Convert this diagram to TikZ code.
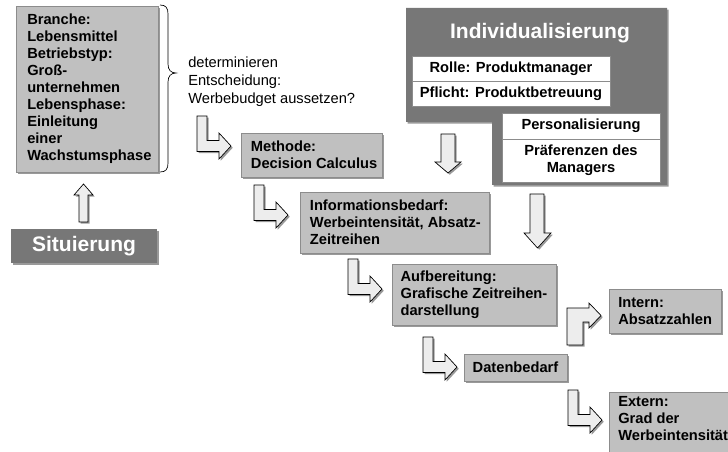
\documentclass[tikz,border=0pt]{standalone}
\usepackage{fontspec}
\setmainfont{Liberation Sans}
\usetikzlibrary{shadows}
\definecolor{boxgray}{HTML}{C0C0C0}
\definecolor{boxedge}{HTML}{8C8C8C}
\definecolor{darkgray}{HTML}{777777}
\definecolor{arrowfill}{HTML}{EDEDED}
\tikzset{
  myshadow/.style={drop shadow={shadow xshift=1.3pt,shadow yshift=-1.3pt,opacity=0.4,fill=black}},
  gbox/.style={draw=boxedge, line width=0.5pt, fill=boxgray, inner sep=0pt, myshadow,
    font=\bfseries\fontsize{11}{12.75}\selectfont},
  gtext/.style={anchor=west, inner sep=0pt, align=left, font=\bfseries\fontsize{11}{12.75}\selectfont},
  dbox/.style={fill=darkgray, inner sep=0pt, text=white, myshadow,
    font=\bfseries\fontsize{15.75}{18}\selectfont},
  wbox/.style={draw=boxedge, line width=0.4pt, fill=white, inner sep=0pt, align=center,
    font=\bfseries\fontsize{11}{12.75}\selectfont},
  blockarrow/.style={draw=black, line width=0.5pt, fill=arrowfill, line join=miter, myshadow},
  larrow/.pic={\draw[blockarrow] (0,0) -- (10,0) -- (10,24.5) -- (22,24.5) -- (22,17) -- (34,30)
      -- (22,43) -- (22,35.5) -- (0,35.5) -- cycle;}
}
\begin{document}
\begin{tikzpicture}[x=0.75pt,y=-0.75pt]
\useasboundingbox (0,0) rectangle (728,452);
\clip (0,0) rectangle (728,452);

% Individualisierung group
\path[fill=darkgray, myshadow] (406,8) -- (667,8) -- (667,185) -- (492,185) -- (492,122) -- (406,122) -- cycle;
\node[text=white, inner sep=0pt, font=\bfseries\fontsize{15.75}{18}\selectfont] (indiv) at (540,33) {Individualisierung};
\node[wbox, minimum width=148.5pt, minimum height=18.75pt] (rolle) at (511,68.5) {Rolle: Produktmanager};
\node[wbox, minimum width=148.5pt, minimum height=18.75pt] (pflicht) at (511,93.5) {Pflicht: Produktbetreuung};
\node[wbox, minimum width=118.5pt, minimum height=19.5pt] (pers) at (581,126) {Personalisierung};
\node[wbox, minimum width=118.5pt, minimum height=32.25pt] (praef) at (581,160.5) {Präferenzen des\\Managers};

% left side
\node[gbox, minimum width=106.5pt, minimum height=124.5pt] (branche) at (87,89) {};
\node[gtext] (branchetext) at ([xshift=8.5pt]branche.west)
  {Branche:\\Lebensmittel\\Betriebstyp:\\Groß-\\unternehmen\\Lebensphase:\\Einleitung\\einer\\Wachstumsphase};
\draw[line width=0.5pt] (160,5) .. controls (166,5) and (168,8) .. (168,14) -- (168,64)
  .. controls (168,70) and (171,73) .. (176,73) .. controls (171,73) and (168,76) .. (168,82)
  -- (168,163) .. controls (168,169) and (166,172) .. (160,172);
\node[anchor=north west, align=left, inner sep=0pt, font=\fontsize{11}{13.5}\selectfont] (det) at (188,57)
  {determinieren\\Entscheidung:\\Werbebudget aussetzen?};
\node[dbox, minimum width=109.5pt, minimum height=25.5pt] (sit) at (84,246) {Situierung};
\draw[blockarrow] (79,222) -- (88,222) -- (88,195) -- (93,195) -- (83.5,184) -- (74,195) -- (79,195) -- cycle;

% chain
\node[gbox, minimum width=105.75pt, minimum height=33pt] (meth) at (311.5,155) {};
\node[gtext] (methtext) at ([xshift=7.5pt]meth.west) {Methode:\\Decision Calculus};
\node[gbox, minimum width=141.75pt, minimum height=45.75pt] (info) at (394.5,222.5) {};
\node[gtext] (infotext) at ([xshift=7.5pt]info.west) {Informationsbedarf:\\Werbeintensität, Absatz-\\Zeitreihen};
\node[gbox, minimum width=123pt, minimum height=45.75pt] (aufb) at (474,294.5) {};
\node[gtext] (aufbtext) at ([xshift=6.5pt]aufb.west) {Aufbereitung:\\Grafische Zeitreihen-\\darstellung};
\node[gbox, minimum width=77.25pt, minimum height=20.25pt] (daten) at (515.5,367.5) {Datenbedarf};
\node[gbox, minimum width=84pt, minimum height=33pt] (intern) at (665,311) {};
\node[gtext] (interntext) at ([xshift=7pt]intern.west) {Intern:\\Absatzzahlen};
\node[gbox, minimum width=113.25pt, minimum height=60pt] (extern) at (684.5,432) {};
\node[gtext, anchor=north west] (externtext) at (618,396) {Extern:\\Grad der\\Werbeintensität};

\pic at (197,116) {larrow};
\pic at (254,185) {larrow};
\pic at (348,259) {larrow};
\pic at (423,337) {larrow};
\pic at (568,390) {larrow};
\draw[blockarrow] (567,345) -- (567,308) -- (589,308) -- (589,303) -- (601,315.5) -- (589,328)
  -- (589,322) -- (583,322) -- (583,345) -- cycle;
\draw[blockarrow] (441,134) -- (455,134) -- (455,162) -- (461,162) -- (448,173) -- (435,162) -- (441,162) -- cycle;
\draw[blockarrow] (530,194) -- (544,194) -- (544,233) -- (551,233) -- (537.5,248) -- (524,233) -- (530,233) -- cycle;
\end{tikzpicture}
\end{document}
